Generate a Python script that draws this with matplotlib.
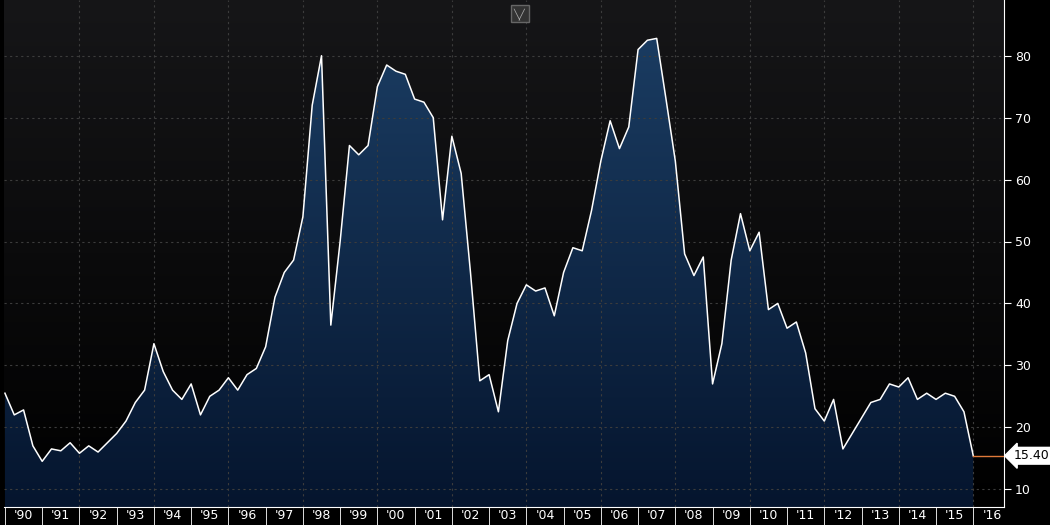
import matplotlib
matplotlib.use("Agg")
import matplotlib.pyplot as plt
import numpy as np
from matplotlib.path import Path
from matplotlib.patches import PathPatch

# quarterly values, 1990 Q1 to 2016 Q1
values = [25.5, 22, 22.8, 17,
          14.5, 16.5, 16.2, 17.5,
          15.8, 17, 16, 17.5,
          19, 21, 24, 26,
          33.5, 29, 26, 24.5,
          27, 22, 25, 26,
          28, 26, 28.5, 29.5,
          33, 41, 45, 47,
          54, 72, 80, 36.5,
          50, 65.5, 64, 65.5,
          75, 78.5, 77.5, 77,
          73, 72.5, 70, 53.5,
          67, 61, 45, 27.5,
          28.5, 22.5, 34, 40,
          43, 42, 42.5, 38,
          45, 49, 48.5, 55,
          63, 69.5, 65, 68.5,
          81, 82.5, 82.8, 73,
          63, 48, 44.5, 47.5,
          27, 33.5, 47, 54.5,
          48.5, 51.5, 39, 40,
          36, 37, 32, 23,
          21, 24.5, 16.5, 19,
          21.5, 24, 24.5, 27,
          26.5, 28, 24.5, 25.5,
          24.5, 25.5, 25, 22.5,
          15.4]
times = [1990 + i * 0.25 for i in range(len(values))]
year_labels = ["'%02d" % (y % 100) for y in range(1990, 2017)]
y_ticks = [10, 20, 30, 40, 50, 60, 70, 80]
last_value = values[-1]

x0, x1 = 1989.98, 2016.82
y0, y1 = 7.1, 89

fig = plt.figure(figsize=(10.5, 5.25), dpi=100)
fig.patch.set_facecolor("black")
ax = fig.add_axes([0.004, 0.034, 0.952, 0.966])
ax.set_xlim(x0, x1)
ax.set_ylim(y0, y1)

# background gradient (dark grey at top to black)
bg = np.linspace(0, 1, 256).reshape(-1, 1)
ax.imshow(bg, extent=[x0, x1, y0, y1], aspect="auto", origin="lower",
          cmap=matplotlib.colors.LinearSegmentedColormap.from_list("bg", ["#000000", "#161618"]),
          zorder=0)

# area fill with blue gradient clipped to the data polygon
verts = [(times[0], y0)] + list(zip(times, values)) + [(times[-1], y0), (times[0], y0)]
clip = PathPatch(Path(verts), facecolor="none", edgecolor="none")
ax.add_patch(clip)
grad = ax.imshow(bg, extent=[x0, x1, y0, 85], aspect="auto", origin="lower",
                 cmap=matplotlib.colors.LinearSegmentedColormap.from_list("fill", ["#05152e", "#1b3d63"]),
                 zorder=1)
grad.set_clip_path(clip)

ax.plot(times, values, color="white", lw=1.1, zorder=3)
ax.plot([times[-1], x1], [last_value, last_value], color="#e07a3a", lw=1, zorder=3)

# dashed grid
for yv in y_ticks:
    ax.axhline(yv, color="#3c3c3c", lw=0.8, ls=(0, (2, 3)), zorder=2)
for xv in range(1992, 2017, 2):
    ax.axvline(xv, color="#3c3c3c", lw=0.8, ls=(0, (2, 3)), zorder=2)

for s in ["top", "left"]:
    ax.spines[s].set_visible(False)
ax.spines["bottom"].set_color("white")
ax.spines["right"].set_color("white")

ax.set_xticks(range(1990, 2017), minor=True)
ax.set_xticks([y + 0.5 for y in range(1990, 2017)])
ax.set_xticklabels(year_labels)
ax.tick_params(axis="x", which="major", length=0, colors="white", labelsize=9, pad=1)
ax.tick_params(axis="x", which="minor", length=16, color="white", direction="out")

ax.yaxis.tick_right()
ax.set_yticks(y_ticks)
ax.tick_params(axis="y", length=5, colors="white", labelsize=9, direction="out", pad=3)

# last value tag
ax.annotate("%.2f" % last_value, xy=(x1, last_value), xycoords="data",
            xytext=(7, 0), textcoords="offset points", va="center", ha="left",
            color="black", fontsize=9, annotation_clip=False,
            bbox=dict(boxstyle="larrow,pad=0.15", fc="white", ec="white"))

# small chart-type icon at the top
fig.text(0.495, 0.985, "\u2572\u2571", color="#aaaaaa", fontsize=7, ha="center", va="top",
         bbox=dict(boxstyle="square,pad=0.3", fc="#333333", ec="#666666"))

fig.savefig("out.png", dpi=100, facecolor="black")
